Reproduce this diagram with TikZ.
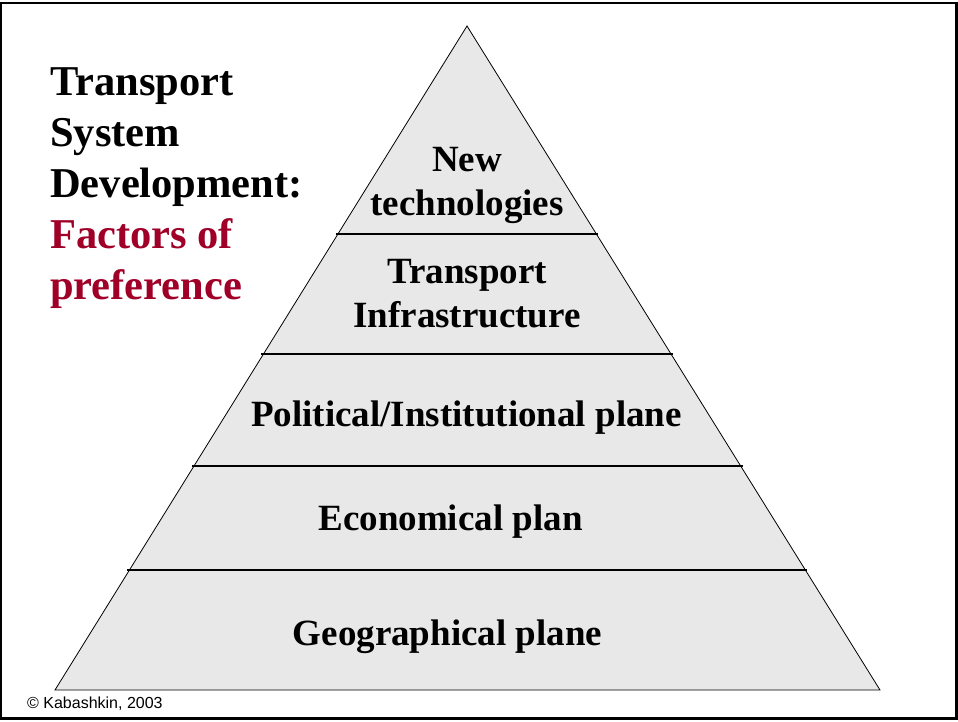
\documentclass[tikz,border=0pt]{standalone}
\usepackage{fontspec}
\setmainfont{Liberation Serif}
\setsansfont{Liberation Sans}
\usetikzlibrary{calc,positioning}
\definecolor{titlered}{RGB}{160,0,40}
\definecolor{layergray}{RGB}{232,232,232}
\tikzset
{
	layertext/.style = {align=center, inner sep=0pt, font=\fontsize{37}{44}\selectfont\bfseries, anchor=base},
	titletext/.style = {align=left, inner sep=0pt, font=\fontsize{42.5}{51}\selectfont\bfseries, anchor=base west},
	notetext/.style = {inner sep=0pt, font=\sffamily\fontsize{16}{18}\selectfont, anchor=base west},
	pyramid/.style = {draw=black, fill=layergray, line width=0.8pt},
	bandline/.style = {line width=1.8pt, shorten <=-2pt, shorten >=-2pt}
}

\begin{document}
\begin{tikzpicture}[x=1pt,y=-1pt]
\useasboundingbox (0,0) rectangle (958,722);
\draw[line width=2.5pt] (1,3) rectangle (956.5,718.5);
\coordinate (apex) at (467,26);
\coordinate (baseL) at (55,690);
\coordinate (baseR) at (880,690);
\filldraw[pyramid] (apex) -- (baseL) -- (baseR) -- cycle;
\foreach \y in {234,354,466,570}
{
  \pgfmathsetmacro{\t}{(\y-26)/664}
  \draw[bandline] ($(apex)!\t!(baseL)$) -- ($(apex)!\t!(baseR)$);
}
\node[titletext] (title) at (50,299) {Transport\\System\\Development:\\\textcolor{titlered}{Factors of}\\\textcolor{titlered}{preference}};
\node[layertext] (newtech) at (467,215) {New\\technologies};
\node[layertext] (infra) at (467,327) {Transport\\Infrastructure};
\node[layertext] (political) at (466.5,426) {Political/Institutional plane};
\node[layertext] (economic) at (450.5,530) {Economical plan};
\node[layertext] (geographic) at (447.5,645) {Geographical plane};
\node[notetext] (copyright) at (27,708) {© Kabashkin, 2003};
\end{tikzpicture}
\end{document}
